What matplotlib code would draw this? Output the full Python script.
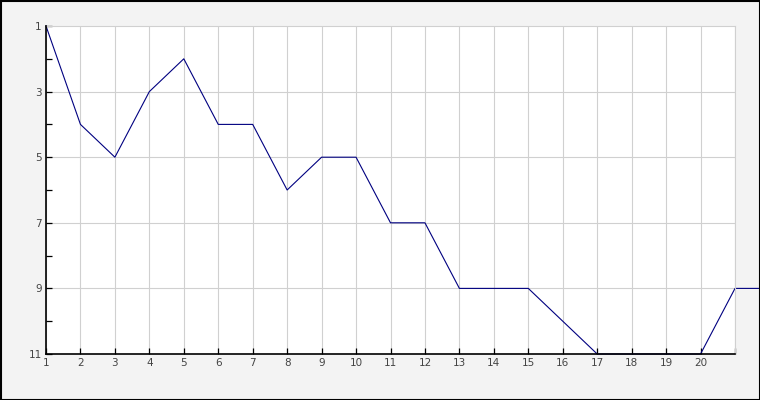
import matplotlib.pyplot as plt
from matplotlib.patches import Rectangle

# values (y axis is inverted)
x_vals = list(range(1, 23))
y_vals = [1, 4, 5, 3, 2, 4, 4, 6, 5, 5, 7, 7, 9, 9, 9, 10, 11, 11, 11, 11, 9, 9]

x_ticks = list(range(1, 22))
x_labels = [str(v) for v in range(1, 21)] + ['']
y_ticks = list(range(1, 12))
y_labels = [str(v) if v % 2 == 1 else '' for v in y_ticks]
y_grid = [3, 5, 7, 9]

fig = plt.figure(figsize=(7.6, 4.0), dpi=100, facecolor='#f3f3f3')
fig.patches.append(Rectangle((0.5 / 760, 0.5 / 400), 759 / 760, 399 / 400,
                             transform=fig.transFigure, fill=False,
                             edgecolor='black', linewidth=1.5))

ax = fig.add_axes([46 / 760, 46 / 400, 689 / 760, 328 / 400])
ax.set_facecolor('white')

for xv in x_ticks:
    ax.axvline(xv, color='#d0d0d0', linewidth=0.8, zorder=1)
for yv in y_grid:
    ax.axhline(yv, color='#d0d0d0', linewidth=0.8, zorder=1)

# below the spines so the part lying on the x axis is hidden
ax.plot(x_vals, y_vals, color='#000080', linewidth=0.8, clip_on=False, zorder=2)

ax.set_xlim(1, 21)
ax.set_ylim(11, 1)
ax.set_xticks(x_ticks)
ax.set_xticklabels(x_labels)
ax.set_yticks(y_ticks)
ax.set_yticklabels(y_labels)

ax.tick_params(direction='in', length=4.5, width=0.9, color='black',
               labelsize=7.5, labelcolor='#444444')
ax.tick_params(axis='x', pad=3)
ax.tick_params(axis='y', pad=3)

for side in ['left', 'bottom']:
    ax.spines[side].set_color('black')
    ax.spines[side].set_linewidth(1.2)
    ax.spines[side].set_zorder(3)
for side in ['top', 'right']:
    ax.spines[side].set_color('#d0d0d0')
    ax.spines[side].set_linewidth(0.8)

fig.savefig('out.png', dpi=100, facecolor=fig.get_facecolor())
